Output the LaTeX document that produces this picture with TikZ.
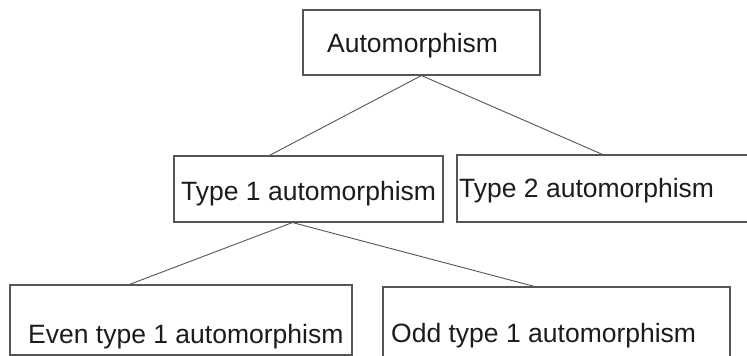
\documentclass[tikz,border=0pt]{standalone}
\usepackage{fontspec}
\setmainfont{Liberation Sans}
\definecolor{inkline}{HTML}{555555}
\definecolor{inktext}{HTML}{1C1C1C}
\begin{document}
\begin{tikzpicture}[x=1pt,y=1pt,
  box/.style={draw=inkline, line width=1.1pt, rectangle, inner sep=0pt},
  lbl/.style={anchor=base west, inner sep=0pt, text=inktext, font=\fontsize{26.5}{30}\selectfont},
  link/.style={draw=inkline, line width=0.9pt}]
\useasboundingbox (0,0) rectangle (747,356);
\clip (0,0) rectangle (747,356);
\fill[white] (0,0) rectangle (747,356);

% boxes
\node[box, minimum width=237pt, minimum height=65pt] (root) at (421.5,313.5) {};
\node[box, minimum width=269pt, minimum height=66pt] (t1) at (308.5,167) {};
\node[box, minimum width=343pt, minimum height=67pt] (t2) at (628.5,167.5) {};
\node[box, minimum width=342pt, minimum height=70pt] (even) at (181,36) {};
\node[box, minimum width=347pt, minimum height=78pt] (odd) at (556.5,30) {};

% labels
\node[lbl] (rootT) at (327,303) {Automorphism};
\node[lbl] (t1T) at (181,155) {Type 1 automorphism};
\node[lbl] (t2T) at (459,158) {Type 2 automorphism};
\node[lbl] (evenT) at (28,12) {Even type 1 automorphism};
\node[lbl] (oddT) at (391,13) {Odd type 1 automorphism};

% connectors
\draw[link] (root.south west) ++(119,0) coordinate (rj) -- ([xshift=96pt]t1.north west);
\draw[link] (rj) -- ([xshift=146pt]t2.north west);
\draw[link] ([xshift=119pt]t1.south west) coordinate (tj) -- ([xshift=120pt]even.north west);
\draw[link] (tj) -- ([xshift=152pt]odd.north west);
\end{tikzpicture}
\end{document}
